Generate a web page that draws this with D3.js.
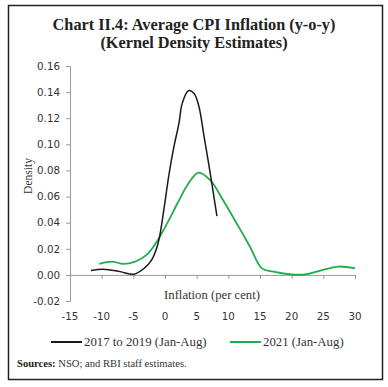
<!DOCTYPE html>
<html>
<head>
<meta charset="utf-8">
<script src="https://cdn.jsdelivr.net/npm/d3@7"></script>
<style>
  html, body { margin: 0; padding: 0; background: #fff; }
  svg { display: block; }
</style>
</head>
<body>
<svg id="chart" width="388" height="387"></svg>
<script>
// ---- data ----
const titleLines = ["Chart II.4: Average CPI Inflation (y-o-y)", "(Kernel Density Estimates)"];
const xTicks = [-15, -10, -5, 0, 5, 10, 15, 20, 25, 30];
const yTicks = [-0.02, 0.00, 0.02, 0.04, 0.06, 0.08, 0.10, 0.12, 0.14, 0.16];
const seriesNames = ["2017 to 2019 (Jan-Aug)", "2021 (Jan-Aug)"];
const blackX = [-11.7, -9.7, -7.1, -4.9, -3.3, -2.1, -1.1, -0.15, 0.6, 1.4, 2.2, 2.7, 3.7, 4.6, 5.4, 6.1, 6.9, 8.2];
const blackY = [0.0033, 0.0044, 0.0025, 0.0005, 0.005, 0.0115, 0.024, 0.051, 0.076, 0.098, 0.116, 0.131, 0.141, 0.139, 0.128, 0.108, 0.085, 0.045];
const greenX = [-10.4, -8.4, -6.6, -4.7, -2.9, -1.1, 0.5, 2.1, 3.7, 5.3, 7.1, 9.2, 11.3, 13.4, 15.3, 17.1, 20, 22.4, 24.5, 27.4, 30];
const greenY = [0.0084, 0.0102, 0.0084, 0.0102, 0.0153, 0.027, 0.041, 0.056, 0.070, 0.0783, 0.0727, 0.057, 0.0396, 0.0217, 0.005, 0.0025, 0.0003, 0.0005, 0.0033, 0.0064, 0.005];
const xLabel = "Inflation (per cent)";
const yLabel = "Density";
const sourceBold = "Sources:";
const sourceText = " NSO; and RBI staff estimates.";

// ---- drawing ----
const svg = d3.select("#chart");
const serif = "'Liberation Serif', 'DejaVu Serif', serif";
const sans = "'DejaVu Sans', sans-serif";
const axisColor = "#9a9a9a";
const textColor = "#333";
const fmtY = d => d3.format(".2f")(d).replace("\u2212", "-");

svg.append("rect").attr("x", 8.5).attr("y", 5.5).attr("width", 374).attr("height", 374)
  .attr("fill", "#fff").attr("stroke", "#222").attr("stroke-width", 1.5);

svg.selectAll("text.title").data(titleLines).enter().append("text")
  .attr("class", "title")
  .attr("x", 194).attr("y", (d, i) => 29.5 + i * 18)
  .attr("text-anchor", "middle")
  .attr("font-family", serif).attr("font-weight", "bold").attr("font-size", 16.3)
  .attr("fill", "#222").text(d => d);

const x = d3.scaleLinear().domain([-15, 30]).range([70, 355]);
const y = d3.scaleLinear().domain([-0.02, 0.16]).range([301, 66]);

// y axis
const yAxis = svg.append("g").attr("transform", `translate(${x(-15)},0)`)
  .call(d3.axisLeft(y).tickValues(yTicks).tickFormat(fmtY).tickSizeOuter(0).tickSize(4).tickPadding(6));
yAxis.select(".domain").attr("stroke", axisColor);
yAxis.selectAll(".tick line").attr("stroke", axisColor);
yAxis.selectAll(".tick text").attr("font-family", sans).attr("font-size", 10.3).attr("fill", textColor);

// x axis line at y=0 (no labels), labels at bottom
const xAxis = svg.append("g").attr("transform", `translate(0,${y(0)})`)
  .call(d3.axisBottom(x).tickValues(xTicks).tickFormat("").tickSizeOuter(0).tickSize(4));
xAxis.select(".domain").attr("stroke", axisColor);
xAxis.selectAll(".tick line").attr("stroke", axisColor);

svg.selectAll("text.xt").data(xTicks).enter().append("text")
  .attr("class", "xt")
  .attr("x", d => x(d)).attr("y", 319.5)
  .attr("text-anchor", "middle")
  .attr("font-family", sans).attr("font-size", 10.3).attr("fill", textColor)
  .text(d => d);

svg.append("text").attr("x", 212).attr("y", 298.5).attr("text-anchor", "middle")
  .attr("font-family", serif).attr("font-size", 12.7).attr("fill", textColor).text(xLabel);

svg.append("text").attr("transform", "translate(31.5,176) rotate(-90)").attr("text-anchor", "middle")
  .attr("font-family", serif).attr("font-size", 11.5).attr("fill", textColor).text(yLabel);

// lines
const line = d3.line().x(d => x(d[0])).y(d => y(d[1])).curve(d3.curveCatmullRom.alpha(0.5));
const blackData = blackX.map((v, i) => [v, blackY[i]]);
const greenData = greenX.map((v, i) => [v, greenY[i]]);
const colors = ["#1a1a1a", "#1fae4b"];

svg.append("path").datum(greenData).attr("d", line).attr("fill", "none")
  .attr("stroke", colors[1]).attr("stroke-width", 1.8);
svg.append("path").datum(blackData).attr("d", line).attr("fill", "none")
  .attr("stroke", colors[0]).attr("stroke-width", 1.5);

// legend
const legendX = [51, 230];
seriesNames.forEach((name, i) => {
  svg.append("line").attr("x1", legendX[i]).attr("x2", legendX[i] + 31)
    .attr("y1", 342).attr("y2", 342).attr("stroke", colors[i]).attr("stroke-width", 2);
  svg.append("text").attr("x", legendX[i] + 33).attr("y", 346)
    .attr("font-family", serif).attr("font-size", 12.8).attr("fill", textColor).text(name);
});

// source
const src = svg.append("text").attr("x", 17).attr("y", 366.5)
  .attr("font-family", serif).attr("font-size", 10.6).attr("fill", textColor);
src.append("tspan").attr("font-weight", "bold").attr("fill", "#222").text(sourceBold);
src.append("tspan").text(sourceText);
</script>
</body>
</html>
